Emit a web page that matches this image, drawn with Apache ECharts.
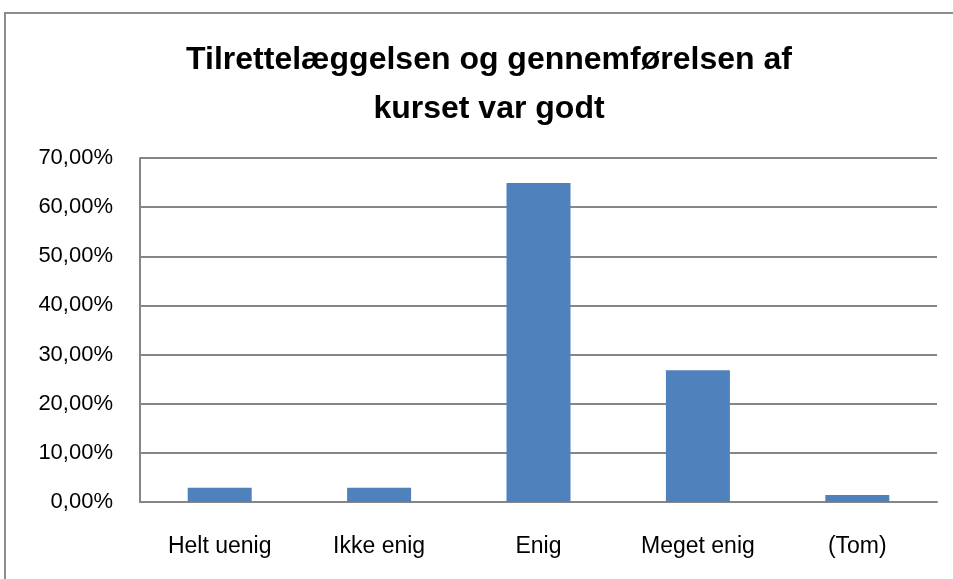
<!DOCTYPE html>
<html>
<head>
<meta charset="utf-8">
<script src="https://cdn.jsdelivr.net/npm/echarts@6/dist/echarts.min.js"></script>
<style>
    html, body { margin: 0; padding: 0; background: #fff; }
    #main { width: 953px; height: 579px; }
</style>
</head>
<body>
<div id="main"></div>
<script>
    var titleText = 'Tilrettelæggelsen og gennemførelsen af\nkurset var godt';
    var categories = ['Helt uenig', 'Ikke enig', 'Enig', 'Meget enig', '(Tom)'];
    var values = [2.9, 2.9, 64.9, 26.8, 1.4];
    var yTicks = [0, 10, 20, 30, 40, 50, 60, 70];

    var font = '"Liberation Sans", Arial, sans-serif';

    var option = {
        animation: false,
        backgroundColor: '#fff',
        title: {
            text: titleText,
            // excel centers the title on the whole chart area, which is a bit right of the page center
            left: 484,
            textAlign: 'center',
            top: 31,
            textStyle: {
                fontFamily: font,
                fontWeight: 'bold',
                fontSize: 32,
                lineHeight: 49,
                color: '#000'
            }
        },
        graphic: [
            {
                // outer chart border (only top and left visible)
                type: 'polyline',
                shape: { points: [[5, 579], [5, 13], [953, 13]] },
                style: { stroke: '#8c8c8c', lineWidth: 2, fill: null }
            }
        ],
        grid: {
            left: 140,
            right: 16,
            top: 158,
            bottom: 77
        },
        xAxis: {
            type: 'category',
            data: categories,
            axisTick: { show: false },
            axisLine: { lineStyle: { color: '#868686', width: 2 } },
            axisLabel: {
                interval: 0,
                margin: 33,
                fontFamily: font,
                fontSize: 23,
                color: '#000'
            }
        },
        yAxis: {
            type: 'value',
            min: yTicks[0],
            max: yTicks[yTicks.length - 1],
            interval: 10,
            axisLine: { show: true, lineStyle: { color: '#868686', width: 2 } },
            axisTick: { show: false },
            splitLine: { lineStyle: { color: '#868686', width: 2 } },
            axisLabel: {
                margin: 27,
                fontFamily: font,
                fontSize: 22,
                color: '#000',
                formatter: function (v) {
                    return v.toFixed(2).replace('.', ',') + '%';
                }
            }
        },
        series: [
            {
                type: 'bar',
                data: values,
                barWidth: 64,
                itemStyle: { color: '#4F81BD' }
            }
        ]
    };

    var myChart = echarts.init(document.getElementById('main'));
    myChart.setOption(option);
</script>
</body>
</html>
